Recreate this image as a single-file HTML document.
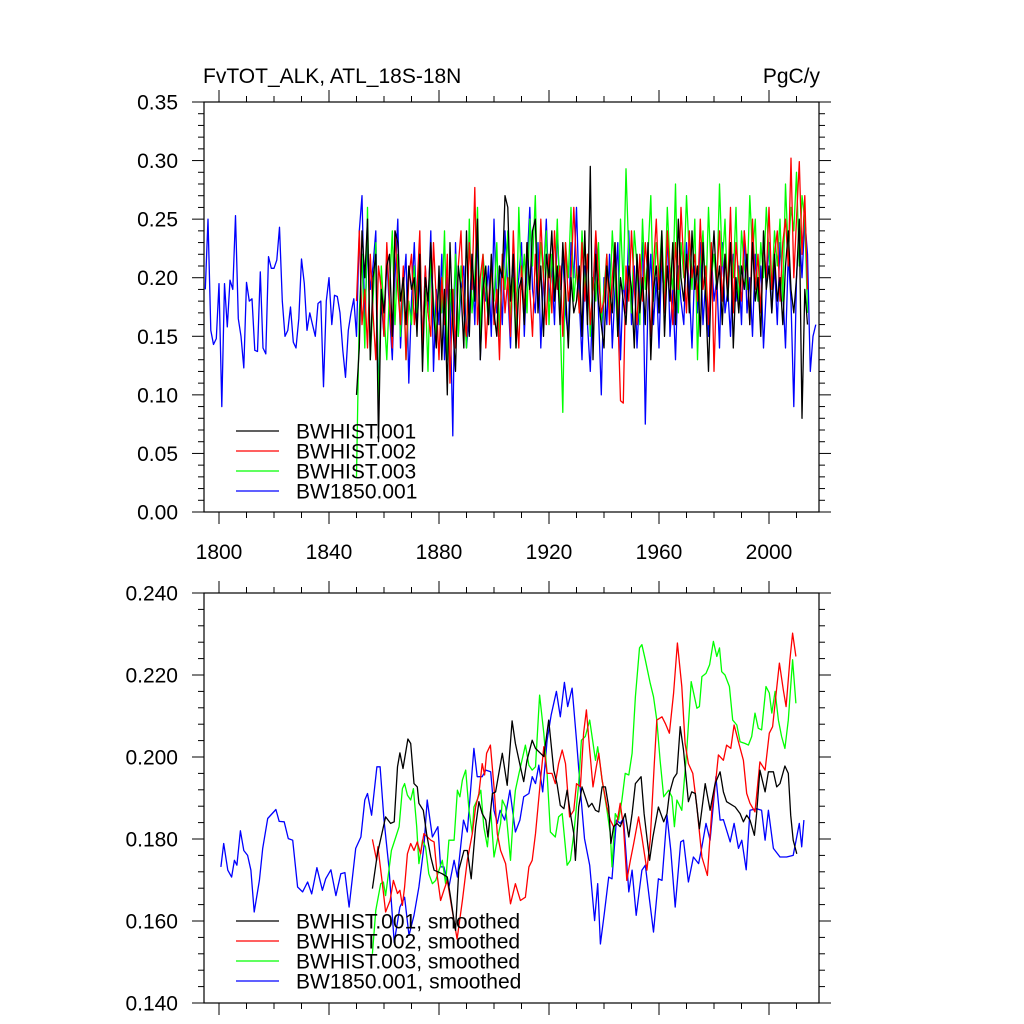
<!DOCTYPE html>
<html><head><meta charset="utf-8"><style>
html,body{margin:0;padding:0;background:#fff;}
svg{display:block;font-family:"Liberation Sans",sans-serif;}
</style></head><body>
<svg id="chart" width="1024" height="1024" viewBox="0 0 1024 1024">
<rect width="1024" height="1024" fill="#fff"/>
<g id="top"></g>
<g id="bot"></g>
</svg>
<script>
const xTicks=[1800,1840,1880,1920,1960,2000];
const topYTicks=[0,0.05,0.1,0.15,0.2,0.25,0.3,0.35];
const topYLabels=["0.00","0.05","0.10","0.15","0.20","0.25","0.30","0.35"];
const botYTicks=[0.14,0.16,0.18,0.2,0.22,0.24];
const botYLabels=["0.140","0.160","0.180","0.200","0.220","0.240"];
const seriesNames=["BWHIST.001","BWHIST.002","BWHIST.003","BW1850.001"];
const seriesColors=["#000","#f00","#0f0","#00f"];
const histStart=1850, blueStart=1795;
const black=[.10,.14,.24,.20,.25,.13,.20,.22,.06,.19,.17,.21,.22,.15,.24,.23,.18,.20,.16,.21,.19,.20,.15,.22,.12,.20,.18,.23,.17,.14,.21,.13,.19,.10,.23,.16,.12,.21,.19,.14,.24,.15,.22,.18,.25,.13,.19,.21,.16,.22,.17,.15,.21,.20,.27,.26,.18,.22,.14,.19,.20,.16,.23,.19,.24,.25,.17,.21,.15,.22,.20,.24,.18,.21,.16,.23,.19,.14,.20,.17,.18,.21,.15,.24,.16,.295,.13,.22,.18,.16,.14,.21,.19,.17,.23,.15,.20,.18,.16,.21,.19,.14,.22,.17,.20,.16,.23,.13,.19,.21,.17,.24,.15,.21,.18,.23,.16,.25,.20,.18,.22,.17,.24,.19,.21,.15,.23,.18,.12,.20,.24,.19,.21,.16,.22,.18,.23,.14,.20,.17,.21,.19,.22,.16,.23,.18,.20,.15,.24,.19,.21,.17,.22,.18,.20,.16,.21,.24,.19,.17,.20,.25,.08,.19,.16];
const red=[.18,.24,.16,.19,.14,.22,.17,.13,.21,.19,.15,.23,.18,.14,.24,.19,.16,.21,.13,.20,.22,.16,.19,.24,.14,.21,.17,.15,.23,.18,.13,.20,.16,.22,.11,.19,.14,.21,.24,.17,.15,.23,.19,.277,.16,.20,.22,.14,.18,.21,.16,.19,.13,.22,.17,.20,.15,.24,.18,.14,.21,.17,.23,.19,.15,.22,.18,.25,.20,.16,.22,.17,.24,.19,.21,.15,.23,.18,.20,.26,.21,.17,.23,.18,.22,.16,.19,.24,.20,.17,.18,.22,.16,.20,.23,.17,.095,.093,.21,.18,.24,.19,.16,.22,.18,.23,.20,.15,.21,.25,.19,.22,.17,.24,.20,.16,.23,.19,.26,.21,.17,.24,.20,.22,.18,.25,.19,.21,.16,.23,.12,.20,.24,.18,.22,.19,.26,.17,.23,.20,.18,.24,.21,.16,.25,.19,.22,.17,.23,.20,.26,.19,.22,.24,.18,.23,.25,.21,.302,.20,.25,.299,.22,.27,.19];
const green=[.03,.17,.22,.14,.26,.13,.18,.23,.085,.21,.17,.13,.19,.24,.16,.22,.15,.20,.13,.18,.16,.21,.17,.23,.14,.19,.12,.22,.18,.15,.20,.17,.24,.13,.19,.16,.22,.15,.21,.18,.14,.25,.17,.20,.26,.15,.22,.19,.16,.21,.18,.23,.15,.22,.19,.24,.16,.20,.14,.26,.19,.22,.17,.25,.21,.27,.18,.23,.20,.24,.16,.22,.19,.25,.17,.085,.23,.20,.26,.18,.21,.17,.24,.19,.22,.15,.20,.18,.23,.16,.19,.22,.17,.24,.20,.15,.25,.19,.293,.22,.17,.24,.21,.16,.25,.19,.22,.27,.18,.23,.20,.24,.18,.26,.21,.19,.28,.17,.23,.20,.27,.22,.19,.25,.13,.21,.24,.18,.26,.20,.22,.19,.28,.21,.25,.18,.23,.20,.26,.17,.24,.21,.19,.27,.22,.25,.18,.23,.20,.26,.22,.19,.24,.21,.25,.18,.28,.22,.26,.24,.29,.21,.27,.25,.17];
const blue=[.19,.25,.155,.143,.148,.195,.09,.195,.158,.198,.19,.253,.165,.15,.123,.196,.18,.182,.138,.137,.205,.14,.135,.218,.208,.208,.215,.243,.18,.15,.155,.175,.145,.14,.165,.216,.195,.155,.17,.16,.15,.178,.18,.107,.18,.2,.16,.185,.184,.17,.138,.115,.155,.17,.182,.15,
.24,.27,.16,.23,.19,.21,.24,.10,.18,.15,.22,.17,.13,.20,.25,.14,.19,.22,.11,.18,.23,.16,.20,.14,.21,.17,.24,.12,.19,.16,.22,.13,.20,.18,.065,.23,.15,.19,.21,.14,.17,.22,.16,.24,.13,.20,.18,.21,.15,.25,.17,.21,.16,.24,.19,.14,.22,.18,.20,.23,.15,.21,.26,.19,.17,.23,.14,.20,.25,.18,.21,.16,.24,.19,.22,.17,.15,.23,.20,.26,.18,.13,.21,.16,.12,.19,.23,.17,.10,.20,.16,.22,.14,.19,.23,.13,.20,.17,.24,.16,.21,.14,.19,.23,.075,.18,.22,.16,.20,.14,.22,.17,.24,.15,.19,.13,.21,.18,.16,.23,.19,.14,.21,.17,.23,.16,.20,.15,.22,.18,.20,.14,.23,.17,.19,.15,.22,.18,.21,.16,.24,.17,.20,.15,.22,.18,.21,.14,.19,.23,.17,.21,.16,.23,.19,.14,.22,.18,.09,.20,.24,.20,.25,.22,.12,.15,.16];
const sBlackYears=[1855.8,1857.6,1860.6,1862.4,1863.7,1864.9,1865.8,1866.9,1868.7,1869.7,1870.9,1872.1,1872.7,1874.3,1875.5,1877,1878.2,1879.6,1881.2,1883,1884,1886,1887.2,1889.1,1890.3,1891.7,1893.3,1894.5,1895.7,1897,1897.8,1899.4,1900.6,1903,1904.8,1906.6,1907.8,1909.6,1910.8,1912,1913.9,1915.1,1916.9,1918.1,1919.9,1921.7,1922.9,1924.1,1925.4,1926.6,1927.8,1929,1929.6,1930.8,1932,1933.2,1934.4,1935.6,1936.9,1938.1,1939.3,1940.5,1941.7,1942.5,1943.5,1944.7,1945.9,1947.7,1949,1950.2,1951.4,1953.5,1954.6,1956.6,1957.8,1959.8,1961.7,1962.9,1963.8,1965.3,1966.5,1967.7,1968.9,1970.7,1971.9,1973.2,1974.7,1976.8,1978.6,1980.4,1982.2,1983.4,1984.6,1987.7,1989.5,1990.7,1991.9,1993.1,1994.7,1995.5,1996.7,1998.6,1999.8,2001.6,2002.8,2004,2005.8,2007,2007.9,2008.8,2010.1];
const sBlack=[.1679,.1764,.1854,.1838,.1842,.1976,.2010,.1972,.2044,.2033,.1935,.1927,.1887,.1870,.1813,.1756,.1724,.1720,.1715,.1707,.1667,.1577,.1724,.1772,.1772,.1703,.1830,.1891,.1862,.1846,.1805,.1911,.1915,.2009,.1931,.2088,.2033,.1976,.1940,.1992,.2041,.2021,.2009,.2001,.2090,.1968,.1935,.1882,.1874,.1919,.1862,.1813,.1748,.1878,.1927,.1903,.1878,.1887,.1870,.1866,.1927,.1927,.1878,.1789,.1830,.1838,.1830,.1862,.1805,.1862,.1935,.1952,.1862,.1748,.1805,.1878,.1842,.1862,.1911,.1948,.1960,.2074,.2017,.1891,.1915,.1911,.1825,.1935,.1870,.1935,.1964,.1915,.1891,.1878,.1862,.1842,.1858,.1846,.1809,.1862,.1968,.1915,.1964,.1964,.1927,.1935,.1978,.1960,.1858,.1797,.1764];
const sRedYears=[1855.8,1857.3,1857.8,1859.4,1860.6,1862.2,1863.4,1864.9,1865.8,1866.7,1867.5,1868.5,1869.7,1870.9,1872.1,1873.3,1874.5,1877,1878.2,1879.4,1880.6,1881.8,1883,1884.8,1886.6,1888.5,1890.3,1892.1,1893.3,1894.5,1895.7,1896.6,1897.3,1898.7,1900,1901.2,1902.4,1904.2,1906,1907.8,1909.6,1911.4,1912.7,1913.9,1915.1,1916.9,1918.1,1919.3,1921.1,1922.3,1923.5,1924.8,1926,1927.5,1929,1930,1931.4,1932.6,1933.6,1934.8,1936,1937.2,1938.1,1939.3,1941.1,1942.3,1943.5,1944.7,1945.9,1947.1,1948.3,1949.6,1950.8,1952.6,1953.8,1955.6,1956.8,1958.3,1959.2,1961.1,1962.3,1963.8,1965.3,1966.7,1968.3,1969.5,1970.7,1972.3,1973.8,1975.6,1977.6,1979.2,1980.8,1981.6,1983.4,1984.6,1986.1,1987.3,1989.2,1990.7,1991.9,1993.1,1994.9,1996.7,1998.6,2000.1,2001.3,2002.8,2003.8,2005.2,2006.2,2007.6,2008.6,2009.8];
const sRed=[.1799,.1748,.1781,.1691,.1622,.1650,.1699,.1667,.1675,.1638,.1683,.1764,.1789,.1772,.1793,.1764,.1813,.1797,.1793,.1707,.1650,.1675,.1699,.1626,.1556,.1650,.1748,.1813,.1878,.1911,.1984,.1956,.2009,.2029,.1927,.1813,.1772,.1740,.1642,.1691,.1650,.1658,.1732,.1748,.1813,.1944,.2025,.1960,.1960,.1935,.1984,.2017,.1984,.1854,.1870,.1935,.1927,.2058,.2115,.2017,.1927,.1976,.2009,.1944,.1878,.1846,.1830,.1838,.1887,.1830,.1699,.1748,.1789,.1854,.1805,.1724,.1797,.1984,.2090,.2098,.2082,.2058,.2156,.2278,.2172,.2033,.1984,.1960,.1878,.1756,.1711,.1870,.1952,.2005,.1992,.2029,.2021,.2078,.2029,.1992,.1911,.1887,.1866,.1988,.1968,.2058,.2074,.2168,.2229,.2164,.2123,.2237,.2302,.2245];
const sGreenYears=[1855.8,1857,1858.8,1859.8,1860.6,1861.8,1862.7,1864.3,1865.5,1866.7,1867.5,1868.5,1869.7,1870.7,1871.9,1872.7,1874,1875.1,1876.3,1877.6,1878.8,1880,1881.2,1882.4,1883.6,1885.5,1886.7,1887.6,1888.5,1889.7,1890.9,1892.1,1892.7,1893.9,1895.2,1896.3,1897.6,1898.8,1900,1901.2,1902.4,1903,1904.2,1906,1907.2,1907.8,1909.1,1911.4,1912.7,1913.9,1915.1,1916.6,1918.1,1919.3,1920.5,1922.3,1923.5,1924.8,1926.6,1927.8,1929,1930.8,1931.8,1933.2,1934.8,1936.9,1937.7,1939.3,1941.1,1942.3,1942.9,1944.1,1945.3,1946.5,1947.7,1949,1950.2,1951.4,1952.9,1953.8,1955,1956.8,1958,1959.2,1960.4,1961.7,1963.5,1964.7,1965.6,1966.5,1968.3,1970.1,1971.7,1973.8,1974.7,1975.6,1977.1,1978.4,1979.8,1981,1982,1982.8,1984,1985.6,1986.8,1988.3,1989.5,1991.3,1992.5,1993.7,1994.9,1996.1,1997.3,1998.9,2000.1,2001,2002.2,2003.4,2004.6,2005.8,2007,2008.6,2009.8];
const sGreen=[.1520,.1626,.1691,.1695,.1662,.1724,.1772,.1805,.1830,.1923,.1935,.1907,.1895,.1923,.1830,.1740,.1797,.1781,.1715,.1691,.1699,.1724,.1748,.1691,.1797,.1797,.1919,.1903,.1944,.1968,.1870,.1813,.1878,.1895,.1919,.1830,.1781,.1870,.1756,.1797,.1838,.1895,.1878,.1748,.1878,.1919,.1960,.2029,.1980,.1968,.1976,.2151,.2058,.1960,.1817,.1805,.1854,.1862,.1736,.1748,.1813,.1935,.2041,.2050,.2090,.1992,.2025,.1944,.1870,.1813,.1732,.1862,.1846,.1895,.1960,.1956,.2009,.2147,.2266,.2274,.2237,.2180,.2147,.2090,.1992,.1903,.1919,.1903,.1830,.1895,.1870,.2017,.2184,.2119,.2123,.2196,.2204,.2225,.2282,.2245,.2266,.2208,.2200,.2172,.2090,.2078,.2037,.2033,.2029,.2050,.2107,.2070,.2066,.2172,.2156,.2107,.2160,.2090,.2050,.2021,.2090,.2237,.2131];
const sBlueYears=[1800.7,1801.7,1803.2,1804.6,1805.6,1806.5,1807.8,1809,1810.4,1811.6,1812.8,1814.7,1815.9,1817.7,1820.7,1821.9,1823.7,1825.2,1826.8,1828.6,1830.4,1832.2,1833.7,1835.6,1837.6,1838.8,1840.7,1842.5,1844.3,1845.8,1847.3,1849.7,1851.6,1853,1854,1855.5,1857.4,1858.6,1860,1861.8,1863.7,1865.8,1867.5,1869.1,1870.9,1872.7,1874.5,1875.7,1877.6,1879.6,1880.6,1881.8,1883.6,1885.5,1886.7,1888.9,1890.3,1892.7,1893.9,1895.7,1897,1898.8,1900,1901.2,1902.2,1903.9,1905.8,1907.8,1909.4,1910.8,1912.7,1913.9,1915.1,1916.3,1917.7,1919.3,1920.8,1922.7,1924.1,1925.6,1926.8,1928.4,1930,1931.4,1932.9,1934.8,1936.6,1937.7,1938.7,1940.1,1941.7,1942.9,1944.5,1945.9,1947.1,1949,1950.2,1951.7,1953.8,1955,1956.6,1958,1959.8,1961.1,1962.9,1964.3,1965.9,1967.9,1968.9,1970.7,1972.5,1974.4,1975.6,1977.1,1978.6,1980.7,1982.2,1983.4,1985.9,1987.3,1988.9,1990.1,1991.7,1993.1,1995.5,1997.3,1998.6,1999.8,2001.6,2004,2006.4,2008.8,2011,2011.9,2012.7];
const sBlue=[.1732,.1789,.1724,.1707,.1748,.1736,.1820,.1772,.1760,.1724,.1622,.1699,.1777,.1850,.1872,.1843,.1842,.1801,.1797,.1683,.1671,.1695,.1666,.1730,.1675,.1703,.1725,.1662,.1715,.1718,.1634,.1777,.1805,.1895,.1911,.1858,.1976,.1976,.1846,.1732,.1548,.1634,.1658,.1565,.1614,.1683,.1781,.1895,.1805,.1830,.1732,.1732,.1683,.1748,.1707,.1846,.1817,.2021,.1952,.1952,.1968,.1964,.1870,.1838,.1870,.1846,.1919,.1817,.1846,.1903,.1911,.1952,.1935,.1980,.1915,.2041,.2103,.2160,.2098,.2182,.2123,.2168,.2041,.1919,.1801,.1736,.1601,.1691,.1544,.1618,.1707,.1703,.1846,.1838,.1850,.1671,.1724,.1614,.1724,.1736,.1650,.1573,.1703,.1699,.1858,.1772,.1634,.1793,.1797,.1695,.1756,.1740,.1781,.1838,.1797,.1952,.1846,.1847,.1793,.1838,.1777,.1797,.1725,.1870,.1874,.1870,.1797,.1870,.1777,.1756,.1756,.1760,.1838,.1781,.1846];

const NS="http://www.w3.org/2000/svg";
const X0=204,X1=819;
const FS=21;
function xs(yr){return 219+(yr-1800)*2.75;}
function mk(parent,tag,attrs){const e=document.createElementNS(NS,tag);for(const k in attrs)e.setAttribute(k,attrs[k]);parent.appendChild(e);return e;}

function panel(g,Y0,Y1,vmin,vmax,yt,yl,minorStep,prefix){
  const ys=v=>Y1-(v-vmin)/(vmax-vmin)*(Y1-Y0);
  const frame=mk(g,'rect',{x:X0,y:Y0,width:X1-X0,height:Y1-Y0,fill:'none',stroke:'#000','stroke-width':1.2});
  
  
  for(let yr=1800;yr<=2010;yr+=10){
    const major=xTicks.includes(yr);const x=xs(yr);const L=major?12:6;
    mk(g,'line',{x1:x,x2:x,y1:Y1,y2:Y1+L,stroke:'#000','stroke-width':1});
    mk(g,'line',{x1:x,x2:x,y1:Y0,y2:Y0-L,stroke:'#000','stroke-width':1});
  }
  const nMinor=Math.round((vmax-vmin)/minorStep);
  for(let i=0;i<=nMinor;i++){
    const v=vmin+i*minorStep;const y=ys(v);
    const major=yt.some(t=>Math.abs(t-v)<1e-9);const L=major?12:6;
    mk(g,'line',{x1:X0,x2:X0-L,y1:y,y2:y,stroke:'#000','stroke-width':1});
    mk(g,'line',{x1:X1,x2:X1+L,y1:y,y2:y,stroke:'#000','stroke-width':1});
  }
  yt.forEach((v,i)=>{
    const t=mk(g,'text',{x:178,y:ys(v)+7.5,'text-anchor':'end','font-size':FS});
    t.textContent=yl[i];
    
    
  });
  return ys;
}

function line(g,years,vals,ys,color,name){
  const pts=years.map((yr,i)=>xs(yr).toFixed(1)+','+ys(vals[i]).toFixed(1)).join(' ');
  const p=mk(g,'polyline',{points:pts,fill:'none',stroke:color,'stroke-width':1.3,'stroke-linejoin':'round'});
  
  
}
function yearsFrom(start,n){return Array.from({length:n},(_,i)=>start+i);}

const gt=document.getElementById('top');
const ysT=panel(gt,102,512,0,0.35,topYTicks,topYLabels,0.01,'top');
xTicks.forEach(yr=>{
  const t=mk(gt,'text',{x:xs(yr),y:559,'text-anchor':'middle','font-size':FS});
  t.textContent=yr;
  
  
});
const ttl=mk(gt,'text',{x:203,y:83,'font-size':FS});ttl.textContent='FvTOT_ALK, ATL_18S-18N';


const un=mk(gt,'text',{x:820,y:83,'text-anchor':'end','font-size':FS});un.textContent='PgC/y';


line(gt,yearsFrom(blueStart,blue.length),blue,ysT,seriesColors[3],'bw1850-001-line');
line(gt,yearsFrom(histStart,green.length),green,ysT,seriesColors[2],'bwhist-003-line');
line(gt,yearsFrom(histStart,red.length),red,ysT,seriesColors[1],'bwhist-002-line');
line(gt,yearsFrom(histStart,black.length),black,ysT,seriesColors[0],'bwhist-001-line');

const gb=document.getElementById('bot');
const ysB=panel(gb,593,1003,0.14,0.24,botYTicks,botYLabels,0.004,'bottom');
line(gb,sBlueYears,sBlue,ysB,seriesColors[3],'bw1850-001-smoothed-line');
line(gb,sGreenYears,sGreen,ysB,seriesColors[2],'bwhist-003-smoothed-line');
line(gb,sRedYears,sRed,ysB,seriesColors[1],'bwhist-002-smoothed-line');
line(gb,sBlackYears,sBlack,ysB,seriesColors[0],'bwhist-001-smoothed-line');

function legend(g,y0,suffix,prefix){
  seriesNames.forEach((n,i)=>{
    const y=y0+i*20;
    const l=mk(g,'line',{x1:236,x2:279,y1:y,y2:y,stroke:seriesColors[i],'stroke-width':1.3});
    
    
    const t=mk(g,'text',{x:296,y:y+7.5,'font-size':FS});t.textContent=n+suffix;
    
    
  });
}
legend(gt,431,'','top');
legend(gb,921,', smoothed','bottom');
</script>
</body></html>
